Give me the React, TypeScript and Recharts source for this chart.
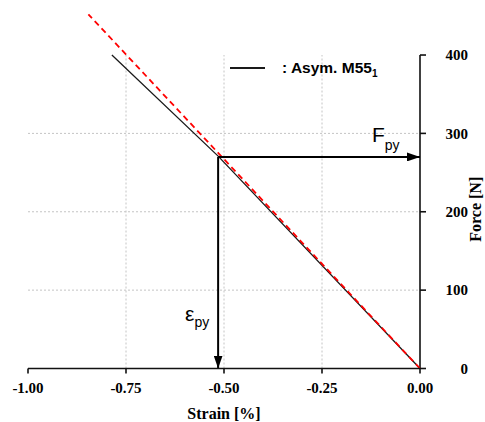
import { LineChart, Line, XAxis, YAxis, ReferenceLine, Legend } from "recharts";

// measured curve (strain in %, force in N)
const asymStrain = [0, -0.515, -0.786];
const asymForce = [0, 271, 400];
// dashed elastic fit
const fitStrain = [0, -0.846];
const fitForce = [0, 452];

const yieldStrain = -0.515;
const yieldForce = 270;

const xTicks = [-1, -0.75, -0.5, -0.25, 0];
const xMinorTicks = [-0.875, -0.625, -0.375, -0.125];
const yTicks = [0, 100, 200, 300, 400];
const yMinorTicks = [50, 150, 250, 350];
const gridX = [-0.75, -0.5, -0.25];
const gridY = [100, 200, 300];

const seriesName = "Asym. M55";
const seriesSub = "1";

const asymData = asymStrain.map((s, i) => ({ strain: s, force: asymForce[i] }));
const fitData = fitStrain.map((s, i) => ({ strain: s, force: fitForce[i] }));

const serif = "'Liberation Serif', 'Times New Roman', serif";
const sans = "'Liberation Sans', Arial, sans-serif";
const axisStroke = { stroke: "#111", strokeWidth: 1.6 };

const FpyLabel = (props: any) => {
  const { x, y, width } = props.viewBox;
  return (
    <text x={x + width - 48} y={y - 15} fontFamily={sans} fontSize={21} fill="#000">
      F<tspan dy={8} fontSize={14}>py</tspan>
    </text>
  );
};

const EpyLabel = (props: any) => {
  const { x, y, height } = props.viewBox;
  return (
    <text x={x - 33} y={y + height - 48} fontFamily={sans} fontSize={21} fill="#000">
      ε<tspan dy={6} fontSize={14}>py</tspan>
    </text>
  );
};

const arrowShape = (p: any) => (
  <line x1={p.x1} y1={p.y1} x2={p.x2} y2={p.y2} stroke="#000" strokeWidth={2} markerEnd="url(#arrowHead)" />
);

const LegendBox = (props: any) => {
  const entry = (props.payload || [])[0];
  return (
    <svg width={170} height={24}>
      <line x1={2} y1={12} x2={37} y2={12} stroke={entry ? entry.color : "#000"} strokeWidth={2} />
      <text x={54} y={17} fontFamily={sans} fontWeight="bold" fontSize={15.5} fill="#000">
        : {seriesName}
        <tspan dy={4} fontSize={10}>{seriesSub}</tspan>
      </text>
    </svg>
  );
};

export default function App() {
  return (
    <div style={{ position: "absolute", left: 0, top: 0 }}>
      <LineChart width={485} height={422} margin={{ top: 8, right: 0, bottom: 0, left: 28 }}>
        <defs>
          <marker id="arrowHead" markerUnits="userSpaceOnUse" markerWidth={13} markerHeight={9} refX={13} refY={4.5} orient="auto">
            <path d="M0,0 L13,4.5 L0,9 Z" fill="#000" />
          </marker>
        </defs>
        <XAxis
          xAxisId="minor"
          type="number"
          dataKey="strain"
          domain={[-1, 0]}
          allowDataOverflow
          ticks={xMinorTicks}
          tick={false}
          tickSize={3}
          tickLine={axisStroke}
          axisLine={false}
          height={0}
        />
        <XAxis
          xAxisId="main"
          type="number"
          dataKey="strain"
          domain={[-1, 0]}
          ticks={xTicks}
          interval={0}
          tickFormatter={(v: number) => v.toFixed(2)}
          tickSize={5}
          tickMargin={9}
          tickLine={axisStroke}
          axisLine={axisStroke}
          tick={{ fill: "#000", fontSize: 15, fontFamily: serif, fontWeight: "bold" }}
          height={53.5}
          label={{ value: "Strain [%]", position: "insideBottom", offset: 3, fill: "#000", fontSize: 16, fontFamily: serif, fontWeight: "bold" }}
        />
        <YAxis
          yAxisId="minor"
          orientation="right"
          type="number"
          domain={[0, 460]}
          allowDataOverflow
          ticks={yMinorTicks}
          tick={false}
          tickSize={2}
          tickLine={axisStroke}
          axisLine={false}
          width={0}
        />
        <YAxis
          yAxisId="main"
          orientation="right"
          type="number"
          dataKey="force"
          domain={[0, 460]}
          ticks={yTicks}
          interval={0}
          tickSize={6}
          tickMargin={42}
          tickLine={axisStroke}
          axisLine={false}
          tick={{ fill: "#000", fontSize: 15, fontFamily: serif, fontWeight: "bold", textAnchor: "end" }}
          width={65}
          label={{ value: "Force [N]", angle: -90, position: "center", dx: 23, dy: 21, fill: "#000", fontSize: 16, fontFamily: serif, fontWeight: "bold" }}
        />

        {gridX.map((g) => (
          <ReferenceLine key={"gx" + g} xAxisId="main" yAxisId="main" segment={[{ x: g, y: 0 }, { x: g, y: yTicks[yTicks.length - 1] }]} stroke="#c4c4c4" strokeDasharray="2 2" />
        ))}
        {gridY.map((g) => (
          <ReferenceLine key={"gy" + g} xAxisId="main" yAxisId="main" segment={[{ x: xTicks[0], y: g }, { x: 0, y: g }]} stroke="#c4c4c4" strokeDasharray="2 2" />
        ))}
        {/* right-hand force axis line, only up to 400 */}
        <ReferenceLine xAxisId="main" yAxisId="main" segment={[{ x: 0, y: 0 }, { x: 0, y: yTicks[yTicks.length - 1] }]} stroke="#111" strokeWidth={1.6} />

        <Line xAxisId="main" yAxisId="main" data={asymData} dataKey="force" name={seriesName} stroke="#1a1a1a" strokeWidth={1.3} dot={false} activeDot={false} isAnimationActive={false} />
        <Line xAxisId="main" yAxisId="main" data={fitData} dataKey="force" name="fit" legendType="none" stroke="#ff0000" strokeWidth={1.8} strokeDasharray="6 4" dot={false} activeDot={false} isAnimationActive={false} />

        <ReferenceLine xAxisId="main" yAxisId="main" segment={[{ x: yieldStrain, y: yieldForce }, { x: 0, y: yieldForce }]} shape={arrowShape} label={FpyLabel} />
        <ReferenceLine xAxisId="main" yAxisId="main" segment={[{ x: yieldStrain, y: yieldForce }, { x: yieldStrain, y: 0 }]} shape={arrowShape} label={EpyLabel} />

        <Legend layout="horizontal" verticalAlign="middle" align="center" wrapperStyle={{ top: 56, left: 228, width: 170, height: 24 }} content={LegendBox} />
      </LineChart>
    </div>
  );
}
